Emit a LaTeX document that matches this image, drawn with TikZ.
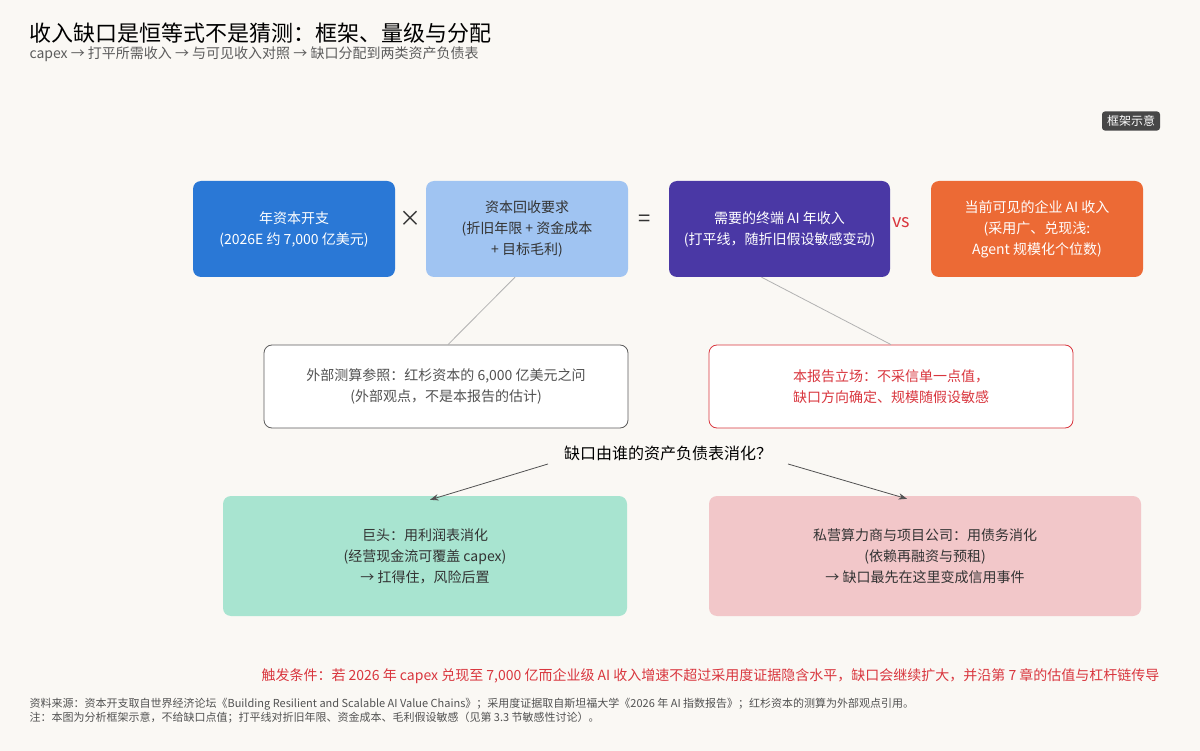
\documentclass[tikz,border=0pt]{standalone}
\usepackage{fontspec}
\setmainfont{Noto Sans CJK SC}
\usepackage{tikz}
\usetikzlibrary{arrows.meta, positioning}
\definecolor{bg}{HTML}{FAF8F4}
\definecolor{capblue}{HTML}{2A78D6}
\definecolor{lightblue}{HTML}{A0C4F2}
\definecolor{violet}{HTML}{4A38A5}
\definecolor{orangebox}{HTML}{EC6A35}
\definecolor{alertred}{HTML}{D9363E}
\definecolor{mint}{HTML}{A8E4D0}
\definecolor{pinkbox}{HTML}{F2C7C9}
\definecolor{ink}{HTML}{333333}

\begin{document}
\begin{tikzpicture}[
    x=1pt, y=-1pt,
    box/.style={rectangle, rounded corners=8pt, align=center, font=\fontsize{14}{21}\selectfont, inner sep=0pt},
    topbox/.style={box, minimum height=96pt},
    note/.style={box, draw, thick, fill=white, minimum width=364pt, minimum height=83pt},
    sink/.style={box, minimum height=120pt},
    link/.style={draw=gray!60, thick},
    arrow/.style={-{Stealth[length=3mm]}, thick, draw=ink!85},
    op/.style={font=\fontsize{22}{22}\selectfont, text=ink},
]
\fill[bg] (0,0) rectangle (1200,751);
\useasboundingbox (0,0) rectangle (1200,751);

% Title
\node[anchor=west, font=\fontsize{22}{22}\selectfont, text=black] (title) at (26,33) {收入缺口是恒等式不是猜测：框架、量级与分配};
\node[anchor=west, font=\fontsize{14}{14}\selectfont, text=ink!80] (subtitle) at (26,54) {capex → 打平所需收入 → 与可见收入对照 → 缺口分配到两类资产负债表};
\node[box, rounded corners=3pt, fill=ink!90, text=white, font=\fontsize{12}{12}\selectfont, inner xsep=5pt, inner ysep=4pt] (tag) at (1131,121) {框架示意};

% Formula row
\node[topbox, fill=capblue, text=white, minimum width=202pt] (capex) at (294,229) {年资本开支\\(2026E 约 7,000 亿美元)};
\node[topbox, fill=lightblue, text=ink, minimum width=202pt] (payback) at (527,229) {资本回收要求\\(折旧年限 + 资金成本\\+ 目标毛利)};
\node[topbox, fill=violet, text=white, minimum width=221pt] (need) at (779.5,229) {需要的终端 AI 年收入\\(打平线，随折旧假设敏感变动)};
\node[topbox, fill=orangebox, text=white, minimum width=212pt] (seen) at (1037,229) {当前可见的企业 AI 收入\\(采用广、兑现浅:\\Agent 规模化个位数)};
\node[op] (times) at (410,219) {×};
\node[op] (equals) at (645,221) {=};
\node[font=\fontsize{18}{18}\selectfont, text=alertred] (vs) at (901,223) {vs};

% Notes
\node[note, draw=ink!80, text=ink!85] (external) at (446,386.5) {外部测算参照：红杉资本的 6,000 亿美元之问\\(外部观点，不是本报告的估计)};
\node[note, draw=alertred, text=alertred] (stance) at (891,386.5) {本报告立场：不采信单一点值，\\缺口方向确定、规模随假设敏感};
\draw[link] ([xshift=-12pt]payback.south) -- ([xshift=2pt]external.north);
\draw[link] ([xshift=-18pt]need.south) -- (stance.north);

% Question and sinks
\node[font=\fontsize{16}{16}\selectfont, text=black] (question) at (668,453) {缺口由谁的资产负债表消化？};
\node[sink, fill=mint, text=ink, minimum width=404pt] (giants) at (425,556) {巨头：用利润表消化\\(经营现金流可覆盖 capex)\\→ 扛得住，风险后置};
\node[sink, fill=pinkbox, text=ink, minimum width=432pt] (private) at (925,556) {私营算力商与项目公司：用债务消化\\(依赖再融资与预租)\\→ 缺口最先在这里变成信用事件};
\draw[arrow] ([xshift=-120pt]question.south) -- ([xshift=5pt,yshift=-4pt]giants.north);
\draw[arrow] ([xshift=120pt]question.south) -- ([xshift=-18pt,yshift=-3pt]private.north);

% Footer
\node[anchor=east, font=\fontsize{14}{14}\selectfont, text=alertred] (trigger) at (1163,676) {触发条件：若 2026 年 capex 兑现至 7,000 亿而企业级 AI 收入增速不超过采用度证据隐含水平，缺口会继续扩大，并沿第 7 章的估值与杠杆链传导};
\node[anchor=west, font=\fontsize{11}{11}\selectfont, text=ink!85] (source) at (26,704) {资料来源：资本开支取自世界经济论坛《Building Resilient and Scalable AI Value Chains》；采用度证据取自斯坦福大学《2026 年 AI 指数报告》；红杉资本的测算为外部观点引用。};
\node[anchor=west, font=\fontsize{11}{11}\selectfont, text=ink!85] (remark) at (26,718) {注：本图为分析框架示意，不给缺口点值；打平线对折旧年限、资金成本、毛利假设敏感（见第 3.3 节敏感性讨论）。};
\end{tikzpicture}
\end{document}
